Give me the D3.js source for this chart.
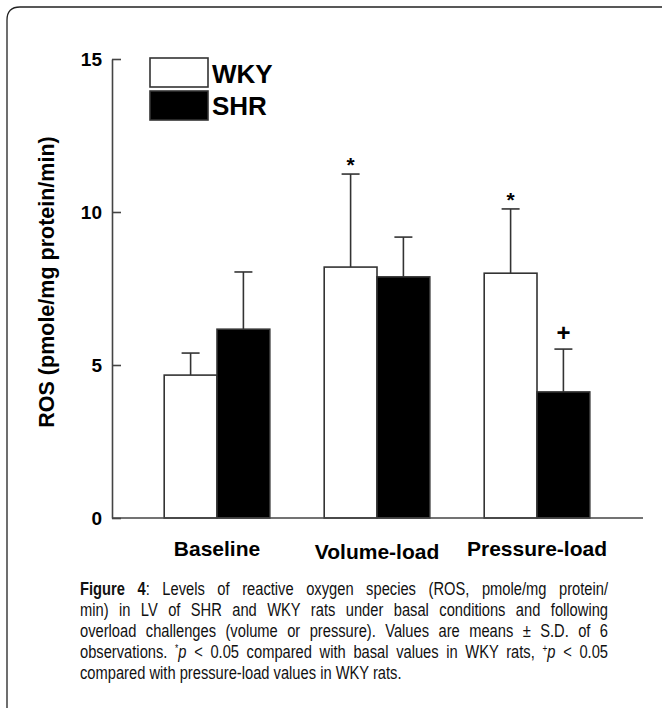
<!DOCTYPE html>
<html>
<head>
<meta charset="utf-8">
<script src="https://cdn.jsdelivr.net/npm/d3@7"></script>
<style>
  body { margin: 0; background: #fff; }
  svg { display: block; }
</style>
</head>
<body>
<script>
// data
var groups = ["Baseline", "Volume-load", "Pressure-load"]
var series = ["WKY", "SHR"]
var wkyMean = [4.67, 8.2, 8.0]
var wkySD = [0.72, 3.04, 2.1]
var shrMean = [6.17, 7.88, 4.12]
var shrSD = [1.87, 1.3, 1.4]
var wkyMark = ["", "*", "*"]
var shrMark = ["", "", "+"]
var yTicks = [0, 5, 10, 15]

var captionLines = [
  [{t: "Figure 4", b: true}, {t: ": Levels of reactive oxygen species (ROS, pmole/mg protein/"}],
  [{t: "min) in LV of SHR and WKY rats under basal conditions and following"}],
  [{t: "overload challenges (volume or pressure). Values are means \u00b1 S.D. of 6"}],
  [{t: "observations. "}, {t: "*", sup: true}, {t: "p", i: true}, {t: " < 0.05 compared with basal values in WKY rats, "}, {t: "+", sup: true}, {t: "p", i: true}, {t: " < 0.05"}],
  [{t: "compared with pressure-load values in WKY rats."}]
]

var W = 662, H = 708
var bold = "'Liberation Sans', Arial, Helvetica, sans-serif"

var svg = d3.select("body").append("svg")
  .attr("width", W)
  .attr("height", H)

// frame with rounded top-left corner
svg.append("path")
  .attr("d", "M7,708 L7,20 Q7,7 20,7 L662,7")
  .attr("fill", "none")
  .attr("stroke", "#222")
  .attr("stroke-width", 1.3)

var y = d3.scaleLinear().domain([0, 15]).range([518, 59])

var x0 = d3.scaleBand()
  .domain(groups)
  .range([137, 617])
  .paddingInner(0.34)
  .paddingOuter(0.17)

var x1 = d3.scaleBand()
  .domain(series)
  .range([0, x0.bandwidth()])

var rows = groups.map(function(g, i) {
  return [
    {g: g, s: "WKY", v: wkyMean[i], sd: wkySD[i], mark: wkyMark[i]},
    {g: g, s: "SHR", v: shrMean[i], sd: shrSD[i], mark: shrMark[i]}
  ]
})
var bars = d3.merge(rows)

var fill = {WKY: "#fff", SHR: "#000"}

// error bars (upper only), drawn first so bar outline sits on top
var eb = svg.append("g").attr("stroke", "#333").attr("stroke-width", 1.6)
bars.forEach(function(d) {
  var cx = x0(d.g) + x1(d.s) + x1.bandwidth() / 2
  eb.append("line")
    .attr("x1", cx).attr("x2", cx)
    .attr("y1", y(d.v)).attr("y2", y(d.v + d.sd))
  eb.append("line")
    .attr("x1", cx - 9).attr("x2", cx + 9)
    .attr("y1", y(d.v + d.sd)).attr("y2", y(d.v + d.sd))
})

svg.append("g")
  .selectAll("rect")
  .data(bars)
  .enter()
  .append("rect")
    .attr("x", function(d) { return x0(d.g) + x1(d.s) })
    .attr("y", function(d) { return y(d.v) })
    .attr("width", x1.bandwidth())
    .attr("height", function(d) { return y(0) - y(d.v) })
    .attr("fill", function(d) { return fill[d.s] })
    .attr("stroke", "#333")
    .attr("stroke-width", 1.6)

// significance marks
svg.append("g")
  .selectAll("text")
  .data(bars.filter(function(d) { return d.mark }))
  .enter()
  .append("text")
    .attr("x", function(d) { return x0(d.g) + x1(d.s) + x1.bandwidth() / 2 })
    .attr("y", function(d) { return y(d.v + d.sd) - (d.mark == "+" ? 8 : 2) })
    .attr("text-anchor", "middle")
    .style("font-family", bold)
    .style("font-size", function(d) { return d.mark == "+" ? "24px" : "21px" })
    .style("font-weight", "bold")
    .text(function(d) { return d.mark })

// y axis, ticks pointing inward
var yAxis = svg.append("g")
  .attr("transform", "translate(112,0)")
  .call(d3.axisLeft(y).tickValues(yTicks).tickSize(-9).tickSizeOuter(0).tickPadding(10))
yAxis.select(".domain").attr("stroke", "#444").attr("stroke-width", 1.6)
yAxis.selectAll(".tick line").attr("stroke", "#444").attr("stroke-width", 1.6)
yAxis.selectAll(".tick text")
  .style("font-family", bold)
  .style("font-size", "19px")
  .style("font-weight", "bold")
  .attr("fill", "#000")

// x axis line
svg.append("line")
  .attr("x1", 112).attr("x2", 643)
  .attr("y1", y(0)).attr("y2", y(0))
  .attr("stroke", "#444")
  .attr("stroke-width", 1.6)

svg.append("g")
  .selectAll("text")
  .data(groups)
  .enter()
  .append("text")
    .attr("x", function(d) { return x0(d) + x0.bandwidth() / 2 })
    .attr("y", function(d, i) { return i == 1 ? 559 : 556 })
    .attr("text-anchor", "middle")
    .style("font-family", bold)
    .style("font-size", "21px")
    .style("font-weight", "bold")
    .text(function(d) { return d })

// y label
svg.append("text")
  .attr("transform", "translate(54," + 282 + ")rotate(-90)")
  .attr("text-anchor", "middle")
  .style("font-family", bold)
  .style("font-size", "21.5px")
  .style("font-weight", "bold")
  .text("ROS (pmole/mg protein/min)")

// legend
var leg = svg.append("g")
series.forEach(function(s, i) {
  leg.append("rect")
    .attr("x", 150).attr("y", 58 + i * 33)
    .attr("width", 58).attr("height", 29)
    .attr("fill", fill[s])
    .attr("stroke", "#333")
    .attr("stroke-width", 1.6)
  leg.append("text")
    .attr("x", 212).attr("y", 83 + i * 32)
    .style("font-family", bold)
    .style("font-size", "26px")
    .style("font-weight", "bold")
    .text(s)
})

// caption, narrow face emulated by horizontal scale, justified lines
var sx = 0.84, capW = 528
captionLines.forEach(function(parts, i) {
  var g = svg.append("g")
    .attr("transform", "translate(80," + (595 + i * 21) + ")scale(" + sx + ",1)")
  var t = g.append("text")
    .style("font-family", bold)
    .style("font-size", "17.5px")
    .attr("fill", "#111")
  parts.forEach(function(p) {
    var ts = t.append("tspan").text(p.t)
    if (p.b) ts.style("font-weight", "bold")
    if (p.i) ts.style("font-style", "italic")
    if (p.sup) ts.style("font-size", "10px").attr("dy", -6).attr("data-sup", 1)
  })
  // reset baseline after superscripts
  t.selectAll("tspan").each(function() {
    var prev = this.previousSibling
    if (prev && prev.getAttribute && prev.getAttribute("data-sup") && !this.getAttribute("data-sup")) {
      d3.select(this).attr("dy", 6)
    }
  })
  if (i < captionLines.length - 1) {
    var full = parts.map(function(p) { return p.t }).join("")
    var spaces = (full.match(/ /g) || []).length
    var natural = t.node().getComputedTextLength()
    var extra = (capW / sx - natural) / spaces
    t.style("word-spacing", extra + "px")
  }
})
</script>
</body>
</html>
